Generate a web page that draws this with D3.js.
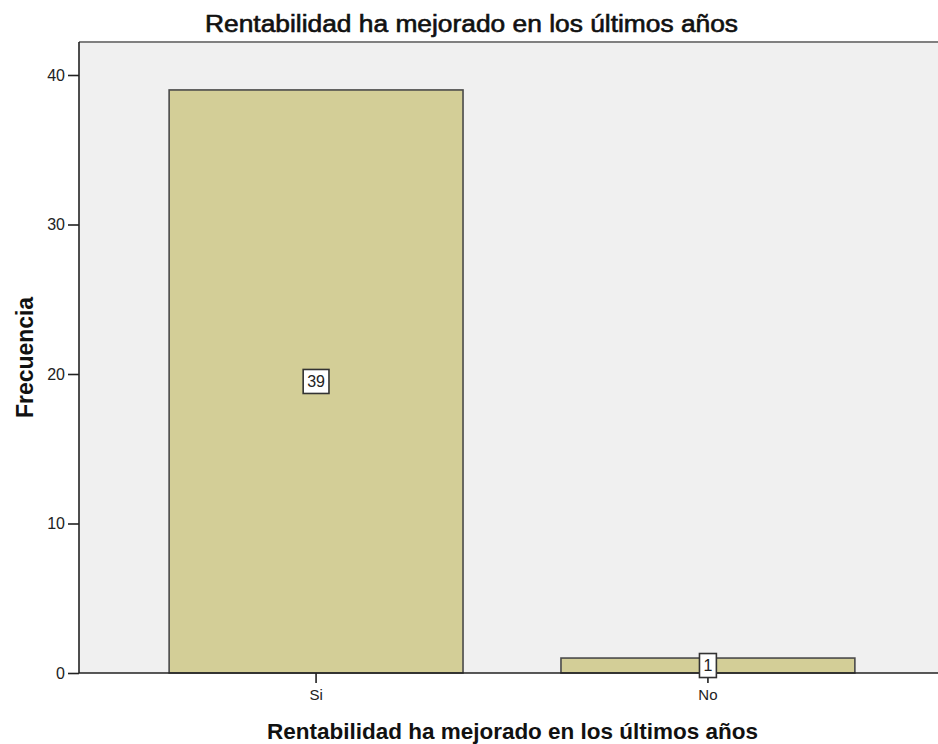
<!DOCTYPE html>
<html>
<head>
<meta charset="utf-8">
<script src="https://d3js.org/d3.v7.min.js"></script>
<style>
  body { margin: 0; background: #fff; }
  text { font-family: "Liberation Sans", Arial, sans-serif; }
</style>
</head>
<body>
<div id="chart"></div>
<script>
// data
const categories = ["Si", "No"];
const counts = [39, 1];
const yTicks = [0, 10, 20, 30, 40];
const chartTitle = "Rentabilidad ha mejorado en los últimos años";
const xTitle = "Rentabilidad ha mejorado en los últimos años";
const yTitle = "Frecuencia";

const width = 938, height = 744;
const plotLeft = 79, plotRight = 945, plotTop = 42, plotBottom = 673;

const svg = d3.select("#chart").append("svg")
    .attr("width", width)
    .attr("height", height);

var xScale = d3.scaleBand()
    .domain(categories)
    .range([plotLeft, plotRight])
    .paddingInner(0.25)
    .paddingOuter(0.23);

var yScale = d3.scaleLinear()
    .domain([0, 40])
    .range([plotBottom, 75]);

// plot background
svg.append("rect")
    .attr("x", plotLeft).attr("y", plotTop)
    .attr("width", plotRight - plotLeft).attr("height", plotBottom - plotTop)
    .attr("fill", "#f0f0f0");
svg.append("line")
    .attr("x1", plotLeft).attr("x2", plotRight)
    .attr("y1", plotTop).attr("y2", plotTop)
    .attr("stroke", "#808080").attr("stroke-width", 2);

// bars
svg.selectAll(".bar")
    .data(counts)
    .enter().append("rect")
    .attr("class", "bar")
    .attr("x", (d, i) => xScale(categories[i]))
    .attr("y", d => yScale(d))
    .attr("width", xScale.bandwidth())
    .attr("height", d => plotBottom - yScale(d))
    .attr("fill", "#d3ce97")
    .attr("stroke", "#4a4a4a")
    .attr("stroke-width", 1.6);

// y axis
svg.append("g")
    .attr("transform", "translate(" + plotLeft + ",0)")
    .call(d3.axisLeft(yScale).tickValues(yTicks).tickSize(11).tickPadding(3))
    .call(g => g.select(".domain").attr("d", "M0," + plotTop + "V" + plotBottom).attr("stroke", "#222").attr("stroke-width", 1.6))
    .call(g => g.selectAll(".tick line").attr("stroke", "#222").attr("stroke-width", 1.6))
    .call(g => g.selectAll("text").attr("font-size", 16).attr("fill", "#222").attr("font-family", "Liberation Sans, Arial, sans-serif"));

// x axis
svg.append("g")
    .attr("transform", "translate(0," + plotBottom + ")")
    .call(d3.axisBottom(xScale).tickSize(10).tickPadding(6))
    .call(g => g.select(".domain").attr("d", "M" + plotLeft + ",0H" + plotRight).attr("stroke", "#222").attr("stroke-width", 1.6))
    .call(g => g.selectAll(".tick line").attr("stroke", "#222").attr("stroke-width", 1.6))
    .call(g => g.selectAll("text").attr("font-size", 15).attr("fill", "#222").attr("font-family", "Liberation Sans, Arial, sans-serif"));

// value labels
const labels = svg.selectAll(".lbl")
    .data(counts)
    .enter().append("g")
    .attr("class", "lbl")
    .attr("transform", (d, i) => "translate(" + (xScale(categories[i]) + xScale.bandwidth() / 2) + "," + ((yScale(d) + plotBottom) / 2) + ")");

labels.append("rect")
    .attr("fill", "#fff")
    .attr("stroke", "#333")
    .attr("stroke-width", 1.6);

labels.append("text")
    .attr("text-anchor", "middle")
    .attr("dy", "0.36em")
    .attr("font-size", 16)
    .attr("fill", "#222")
    .text(d => d)
    .each(function() {
        const w = this.getComputedTextLength() + 8;
        d3.select(this.parentNode).select("rect")
            .attr("x", -w / 2).attr("width", w)
            .attr("y", -12).attr("height", 24);
    });

// titles
svg.append("text")
    .attr("x", 471.5).attr("y", 32)
    .attr("text-anchor", "middle")
    .attr("font-size", 23)
    .attr("textLength", 533)
    .attr("lengthAdjust", "spacingAndGlyphs")
    .attr("fill", "#111")
    .attr("stroke", "#111")
    .attr("stroke-width", 0.6)
    .text(chartTitle);

svg.append("text")
    .attr("x", 512.5).attr("y", 739)
    .attr("text-anchor", "middle")
    .attr("font-size", 22)
    .attr("font-weight", "bold")
    .attr("textLength", 491)
    .attr("lengthAdjust", "spacingAndGlyphs")
    .attr("fill", "#111")
    .text(xTitle);

svg.append("text")
    .attr("transform", "rotate(-90)")
    .attr("x", -357.5).attr("y", 33)
    .attr("text-anchor", "middle")
    .attr("font-size", 23)
    .attr("font-weight", "bold")
    .attr("textLength", 121)
    .attr("lengthAdjust", "spacingAndGlyphs")
    .attr("fill", "#111")
    .text(yTitle);
</script>
</body>
</html>
